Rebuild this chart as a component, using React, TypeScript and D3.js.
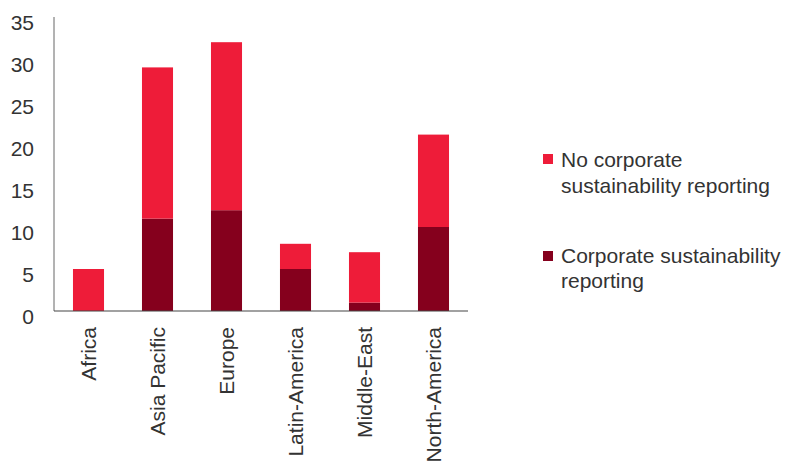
import * as React from 'react';
import * as d3 from 'd3';

const regions = ['Africa', 'Asia Pacific', 'Europe', 'Latin-America', 'Middle-East', 'North-America'];
const reporting = [0, 11, 12, 5, 1, 10];
const noReporting = [5, 18, 20, 3, 6, 11];
const yTicks = [0, 5, 10, 15, 20, 25, 30, 35];
const seriesNames = ['No corporate sustainability reporting', 'Corporate sustainability reporting'];

const W = 789;
const H = 463;
const margin = { top: 17, left: 54, right: 321, bottom: 152 };
const FONT = '"Liberation Sans", Arial, Helvetica, sans-serif';
const RED = '#ee1c39';
const DARK = '#85001d';
const TEXT = '#333';

export default function App() {
	const innerW = W - margin.left - margin.right;
	const innerH = H - margin.top - margin.bottom;

	const x = d3.scaleBand().domain(regions).range([0, innerW]).paddingInner(0.55).paddingOuter(0.275);
	const y = d3.scaleLinear().domain([0, 35]).range([innerH, 0]);

	const rows = regions.map((r, i) => ({ region: r, reporting: reporting[i], noReporting: noReporting[i] }));
	const stack = d3.stack<any>().keys(['reporting', 'noReporting'])(rows);
	const colors = [DARK, RED];

	return (
		<svg width={W} height={H} style={{ position: 'absolute', left: 0, top: 0, background: '#fff' }} fontFamily={FONT}>
			<g transform={`translate(${margin.left},${margin.top})`}>
				{stack.map((layer, li) => (
					<g key={li} fill={colors[li]}>
						{layer.map((d: any, i) => (
							<rect
								key={i}
								x={x(regions[i])}
								y={y(d[1])}
								width={x.bandwidth()}
								height={y(d[0]) - y(d[1])}
							/>
						))}
					</g>
				))}
				{/* axes */}
				<line x1={0} x2={0} y1={0} y2={innerH} stroke="#666" strokeWidth={1} />
				<line x1={0} x2={innerW} y1={innerH} y2={innerH} stroke="#444" strokeWidth={1.2} />
				{yTicks.map((t) => (
					<text key={t} x={-20} y={y(t)} dy="0.6em" textAnchor="end" fontSize={21} fill={TEXT}>
						{t}
					</text>
				))}
				{regions.map((r) => (
					<text
						key={r}
						transform={`translate(${(x(r) as number) + x.bandwidth() / 2},${innerH + 16}) rotate(-90)`}
						dy="0.35em"
						textAnchor="end"
						fontSize={21}
						fill={TEXT}
					>
						{r}
					</text>
				))}
			</g>
			{/* legend */}
			<g fontSize={21} fill={TEXT}>
				<rect x={543} y={154} width={10} height={10} fill={RED} />
				<text x={561} y={167}>{seriesNames[0].slice(0, 12)}</text>
				<text x={561} y={193}>{seriesNames[0].slice(13)}</text>
				<rect x={543} y={251} width={10} height={10} fill={DARK} />
				<text x={561} y={263}>{seriesNames[1].slice(0, 24)}</text>
				<text x={561} y={288}>{seriesNames[1].slice(25)}</text>
			</g>
		</svg>
	);
}
